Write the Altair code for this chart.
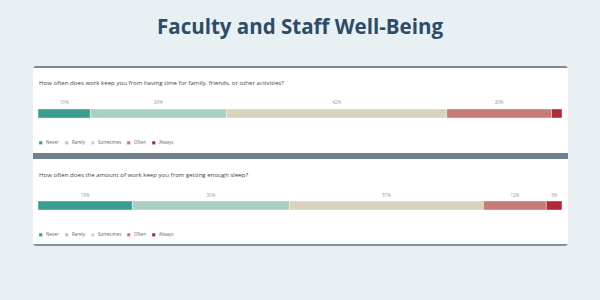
import altair as alt
import pandas as pd

title_text = "Faculty and Staff Well-Being"
questions = [
    "How often does work keep you from having time for family, friends, or other activities?",
    "How often does the amount of work keep you from getting enough sleep?",
]
categories = ["Never", "Rarely", "Sometimes", "Often", "Always"]
q1_values = [10, 26, 42, 20, 2]
q2_values = [18, 30, 37, 12, 3]
colors = ["#3a9d8f", "#a9d0c3", "#d9d2bf", "#c67a78", "#b02a37"]

FONT = "Open Sans"

rows = []
for qi, (q, vals) in enumerate(zip(questions, [q1_values, q2_values])):
    start = 0
    for ci, (c, v) in enumerate(zip(categories, vals)):
        rows.append({
            "qid": qi, "question": q, "category": c, "order": ci,
            "value": v, "start": start, "end": start + v,
            "mid": start + v / 2, "label": f"{v}%",
        })
        start += v
df = pd.DataFrame(rows)
qdf = pd.DataFrame({"question": questions})

xs = alt.Scale(domain=[0, 100], range=[38, 562])
ys = alt.Scale(domain=questions, range=[109, 210], paddingInner=0.9022, paddingOuter=0)

one = pd.DataFrame({"a": [0]})

def deco(x, x2, y, y2, color, r=0):
    return alt.Chart(one).mark_rect(color=color, cornerRadius=r).encode(
        x=alt.value(x), x2=alt.value(x2), y=alt.value(y), y2=alt.value(y2)
    )

cards = [
    deco(33, 568, 66, 153, "#7b8896", 3),
    deco(33, 568, 68, 153, "#ffffff", 0),
    deco(33, 568, 153, 246, "#8592a0", 3),
    deco(33, 568, 159, 244, "#ffffff", 0),
    deco(33, 568, 153, 159, "#708090", 0),
]

title = alt.Chart(one).mark_text(
    text=title_text, font=FONT, fontSize=20.5, fontWeight="bold", color="#2d4c66",
    align="center", baseline="alphabetic"
).encode(x=alt.value(300), y=alt.value(34))

qtext = alt.Chart(qdf).mark_text(
    align="left", dy=-30.5, fontSize=6.1, color="#444444", font=FONT
).encode(
    x=alt.value(39),
    y=alt.Y("question:N", scale=ys, axis=None),
    text="question:N",
)

def bars(qi, legend_y):
    return alt.Chart(df[df.qid == qi]).mark_bar(stroke="white", strokeWidth=0.4).encode(
        x=alt.X("start:Q", scale=xs, axis=None),
        x2="end:Q",
        y=alt.Y("question:N", scale=ys, axis=None),
        color=alt.Color(
            "category:N",
            scale=alt.Scale(domain=categories, range=colors),
            legend=alt.Legend(
                orient="none", legendX=38.5, legendY=legend_y, direction="horizontal",
                columns=5, title=None, symbolType="square", symbolSize=10,
                symbolStrokeWidth=0, labelFontSize=4.5, labelColor="#666666",
                labelFont=FONT, columnPadding=5, labelOffset=3, padding=0,
            ),
        ),
    )

labels = alt.Chart(df).mark_text(dy=-10, fontSize=4.5, color="#999999", font=FONT).encode(
    x=alt.X("mid:Q", scale=xs, axis=None),
    y=alt.Y("question:N", scale=ys, axis=None),
    text="label:N",
).transform_filter("datum.value >= 3")

chart = alt.layer(
    *cards, title, qtext, bars(0, 140.5), bars(1, 232.5), labels
).resolve_scale(color="independent").properties(
    width=600, height=300, autosize=alt.AutoSizeParams(type="none"), padding=0,
    background="#e9f0f4",
).configure_view(stroke=None)

chart.save("out.html", embed_options={"renderer": "svg", "actions": False})
